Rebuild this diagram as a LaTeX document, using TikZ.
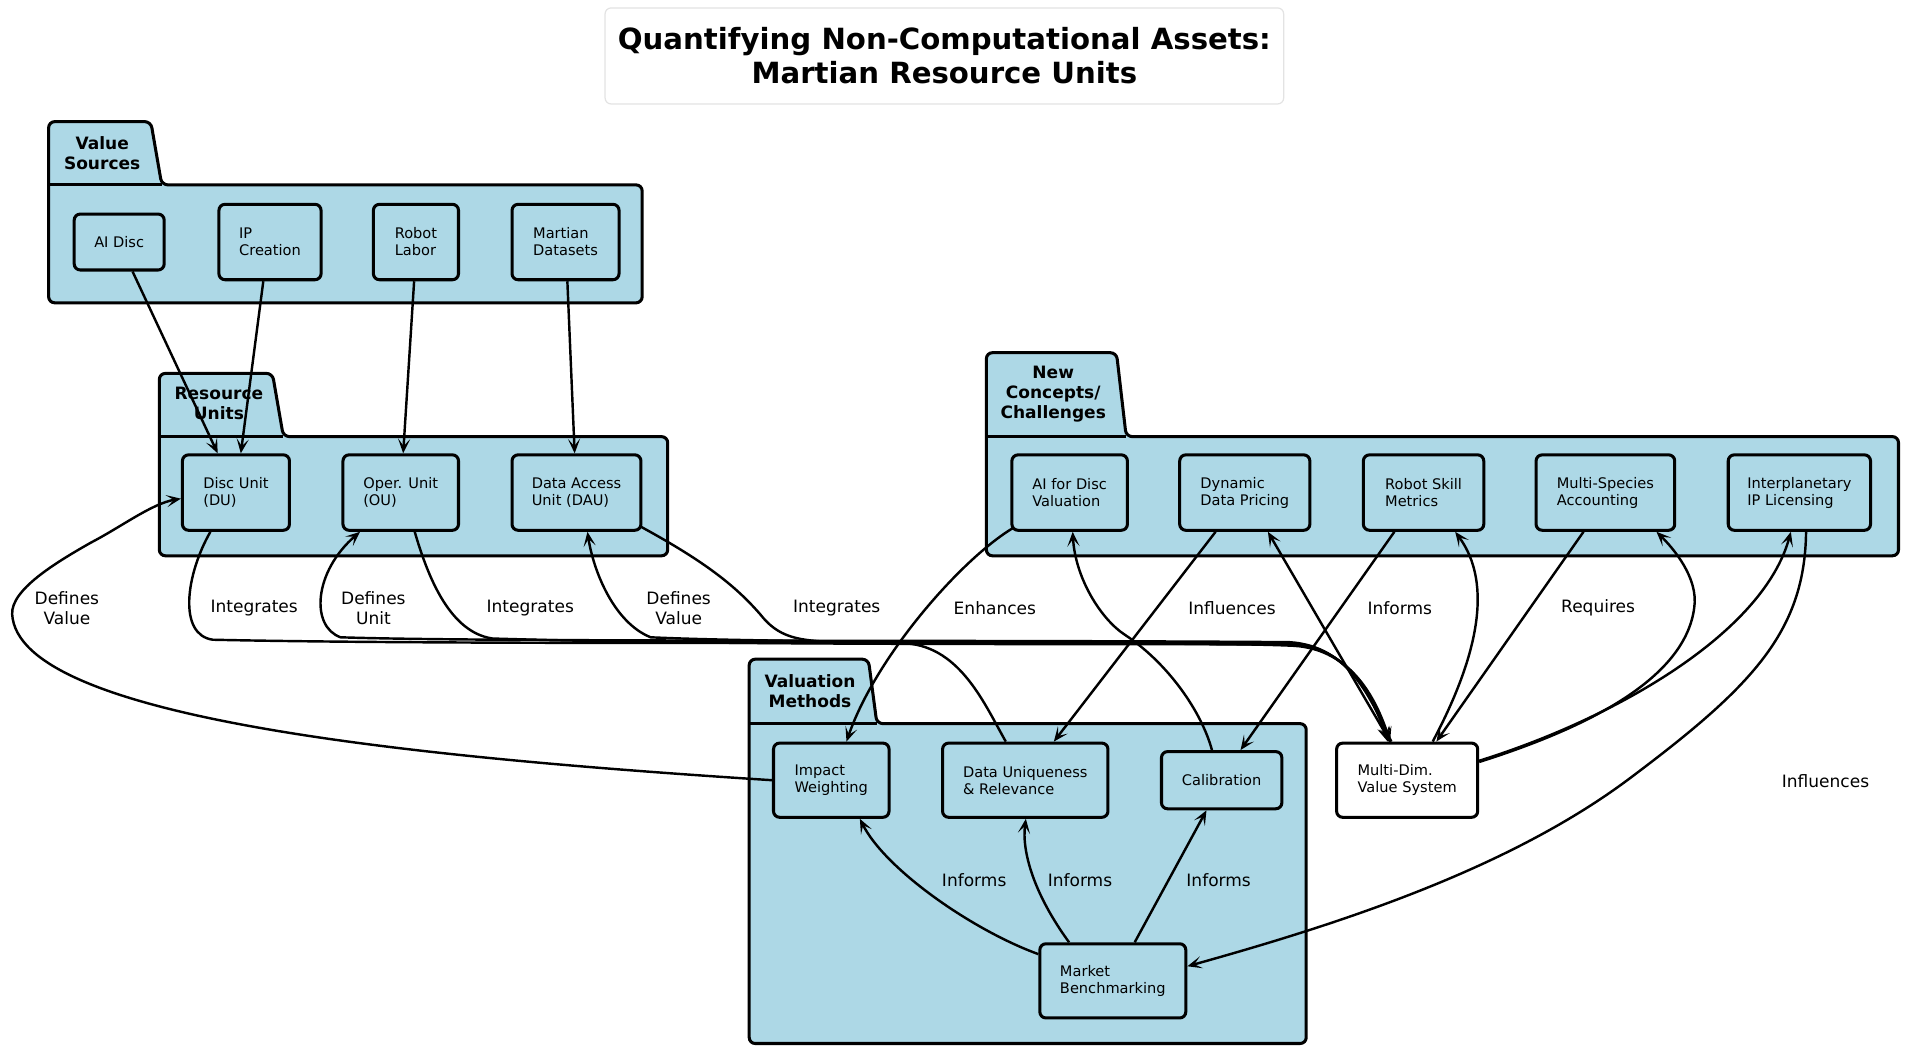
\documentclass[tikz,border=0pt]{standalone}
\usepackage{fontspec}
\setmainfont{DejaVu Sans}
\usetikzlibrary{arrows.meta}
\definecolor{lb}{HTML}{ADD8E6}
\definecolor{tgrey}{HTML}{E3E3E3}
\begin{document}
\begin{tikzpicture}[x=1pt,y=-1pt,
  box/.style={draw, line width=2.5pt, rounded corners=5pt, fill=lb, align=left, inner sep=0pt, font=\fontsize{12}{14}\selectfont},
  wbox/.style={box, fill=white},
  edge/.style={draw, line width=2pt, -{Stealth[length=12pt,width=10pt,inset=6pt]}},
  lbl/.style={font=\fontsize{14}{16.5}\selectfont, align=center, inner sep=0pt},
  clab/.style={font=\fontsize{14}{16.5}\selectfont\bfseries, align=center, inner sep=0pt},
  folder/.style={draw, line width=2.5pt, fill=lb, rounded corners=5pt},
  sep/.style={draw, line width=2.5pt},
]
\useasboundingbox (0,0) rectangle (1568,865);

% title
\node[draw=tgrey, line width=1pt, rounded corners=5pt, fill=white, minimum width=558pt, minimum height=79pt, align=center, font=\fontsize{24}{28}\selectfont\bfseries] (title) at (776.5,46) {Quantifying Non-Computational Assets:\\Martian Resource Units};

% containers
\path[folder] (40,249) -- (40,100) -- (124,100) -- (133,152) -- (528,152) -- (528,249) -- cycle;
\path[sep] (40,152) -- (133,152);
\path[folder] (131,457) -- (131,307) -- (224,307) -- (233,359) -- (549,359) -- (549,457) -- cycle;
\path[sep] (131,359) -- (233,359);
\path[folder] (811,457) -- (811,290) -- (918,290) -- (926,359) -- (1561,359) -- (1561,457) -- cycle;
\path[sep] (811,359) -- (926,359);
\path[folder] (616,858) -- (616,542) -- (714,542) -- (721,595) -- (1074,595) -- (1074,858) -- cycle;
\path[sep] (616,595) -- (721,595);

\node[clab] (cvs) at (84,126) {Value\\Sources};
\node[clab] (cru) at (180,332) {Resource\\Units};
\node[clab] (cnc) at (866,324) {New\\Concepts/\\Challenges};
\node[clab] (cvm) at (666,568) {Valuation\\Methods};

% nodes
\node[box, minimum width=74pt, minimum height=46pt] (aidisc) at (98,199) {AI Disc};
\node[box, minimum width=84pt, minimum height=62pt] (ipc) at (222,199) {IP\\Creation};
\node[box, minimum width=70pt, minimum height=62pt] (rl) at (342,199) {Robot\\Labor};
\node[box, minimum width=88pt, minimum height=62pt] (md) at (465,199) {Martian\\Datasets};
\node[box, minimum width=88pt, minimum height=62pt] (du) at (194,405) {Disc Unit\\(DU)};
\node[box, minimum width=95pt, minimum height=62pt] (ou) at (329.5,405) {Oper. Unit\\(OU)};
\node[box, minimum width=106pt, minimum height=62pt] (dau) at (474,405) {Data Access\\Unit (DAU)};
\node[box, minimum width=95pt, minimum height=62pt] (aidv) at (879.5,405) {AI for Disc\\Valuation};
\node[box, minimum width=107pt, minimum height=62pt] (ddp) at (1023.5,405) {Dynamic\\Data Pricing};
\node[box, minimum width=99pt, minimum height=62pt] (rsm) at (1170.5,405) {Robot Skill\\Metrics};
\node[box, minimum width=114pt, minimum height=62pt] (msa) at (1320,405) {Multi-Species\\Accounting};
\node[box, minimum width=117pt, minimum height=62pt] (iipl) at (1479.5,405) {Interplanetary\\IP Licensing};
\node[box, minimum width=95pt, minimum height=61pt] (iw) at (683.5,641.5) {Impact\\Weighting};
\node[box, minimum width=136pt, minimum height=61pt] (dur) at (843,641.5) {Data Uniqueness\\\& Relevance};
\node[box, minimum width=99pt, minimum height=47pt] (cal) at (1004.5,641.5) {Calibration};
\node[box, minimum width=120pt, minimum height=61pt] (mb) at (915,806.5) {Market\\Benchmarking};
\node[wbox, minimum width=116pt, minimum height=61pt] (mdvs) at (1157,641.5) {Multi-Dim.\\Value System};

% value sources -> resource units
\draw[edge] ([xshift=11pt]aidisc.south) -- ([xshift=-15pt]du.north);
\draw[edge] ([xshift=-5.5pt]ipc.south) -- ([xshift=4pt]du.north);
\draw[edge] ([xshift=-1.5pt]rl.south) -- ([xshift=2pt]ou.north);
\draw[edge] ([xshift=1.5pt]md.south) -- ([xshift=-1.5pt]dau.north);

% Integrates
\draw[edge] ([xshift=-21pt]du.south) .. controls (153,472) and (146,522) .. (175,526) .. controls (400,531) and (900,527) .. (1060,529) .. controls (1108,531) and (1129,572) .. ([xshift=-16pt]mdvs.north);
\draw[edge] ([xshift=11.5pt]ou.south) .. controls (352,475) and (370,520) .. (405,525) .. controls (600,531) and (900,529) .. (1062,530) .. controls (1110,532) and (1130,574) .. ([xshift=-15pt]mdvs.north);
\draw[edge] ([xshift=-1pt,yshift=4pt]dau.south east) .. controls (580,462) and (605,482) .. (625,505) .. controls (640,524) and (655,527) .. (690,528) .. controls (850,530) and (1000,528) .. (1064,531) .. controls (1112,534) and (1132,576) .. ([xshift=-14pt]mdvs.north);

% Defines
\draw[edge] ([xshift=-13pt]mdvs.north) .. controls (1127,575) and (1110,531) .. (1060,528) .. controls (800,526) and (400,528) .. (280,524) .. controls (255,515) and (258,470) .. ([xshift=-33.5pt]ou.south);
\draw[edge] ([xshift=-16pt]dur.north) .. controls (810,580) and (790,532) .. (745,529) .. controls (700,527) and (600,527) .. (535,524) .. controls (505,512) and (488,470) .. ([xshift=9pt]dau.south);
\draw[edge] (iw.west) .. controls (330,622) and (15,590) .. (10,505) .. controls (9,485) and (45,463) .. (75,446) .. controls (100,433) and (125,414) .. ([yshift=-5pt]du.west);

% Enhances
\draw[edge] ([xshift=2pt,yshift=3pt]aidv.south west) .. controls (790,460) and (720,540) .. ([xshift=12.5pt]iw.north);

% Influences / links with MDVS
\draw[edge] ([xshift=-24pt]ddp.south) -- ([xshift=23.5pt]dur.north);
\draw[edge] ([xshift=-14pt]mdvs.north) -- ([xshift=19pt]ddp.south);
\draw[edge] ([xshift=-8pt]cal.north) .. controls (988,585) and (960,545) .. (925,522) .. controls (905,509) and (884,475) .. ([xshift=2.5pt]aidv.south);
\draw[edge] ([xshift=-24pt]rsm.south) -- ([xshift=15.5pt]cal.north);
\draw[edge] ([xshift=21pt]mdvs.north) .. controls (1215,540) and (1228,480) .. ([xshift=26pt]rsm.south);
\draw[edge] ([xshift=-18pt]msa.south) -- ([xshift=24pt]mdvs.north);
\draw[edge] ([yshift=15pt]mdvs.east) .. controls (1300,600) and (1385,560) .. (1393,500) .. controls (1397,475) and (1375,450) .. ([xshift=42pt]msa.south);
\draw[edge] ([yshift=16pt]mdvs.east) .. controls (1330,590) and (1450,520) .. ([xshift=-7pt]iipl.south);
\draw[edge] ([xshift=5.5pt]iipl.south) .. controls (1484,520) and (1440,565) .. (1340,640) .. controls (1240,715) and (1100,760) .. ([yshift=12pt]mb.east);

% Market benchmarking informs
\draw[edge] ([yshift=22pt]mb.west) .. controls (800,765) and (728,715) .. ([xshift=23.5pt]iw.south);
\draw[edge] ([xshift=-36pt]mb.north) .. controls (850,735) and (840,700) .. ([xshift=0.5pt]dur.south);
\draw[edge] ([xshift=18pt]mb.north) -- ([xshift=-12.5pt]cal.south);

% edge labels
\node[lbl] (l1) at (209,500) {Integrates};
\node[lbl] (l2) at (436,500) {Integrates};
\node[lbl] (l3) at (688,500) {Integrates};
\node[lbl] (l4) at (55,500) {Defines\\Value};
\node[lbl] (l5) at (307,500) {Defines\\Unit};
\node[lbl] (l6) at (558,500) {Defines\\Value};
\node[lbl] (l7) at (818,500) {Enhances};
\node[lbl] (l8) at (1013,500) {Influences};
\node[lbl] (l9) at (1151,500) {Informs};
\node[lbl] (l10) at (1314,500) {Requires};
\node[lbl] (l11) at (1501,642) {Influences};
\node[lbl] (l12) at (801,724) {Informs};
\node[lbl] (l13) at (888,724) {Informs};
\node[lbl] (l14) at (1002,724) {Informs};
\end{tikzpicture}
\end{document}
